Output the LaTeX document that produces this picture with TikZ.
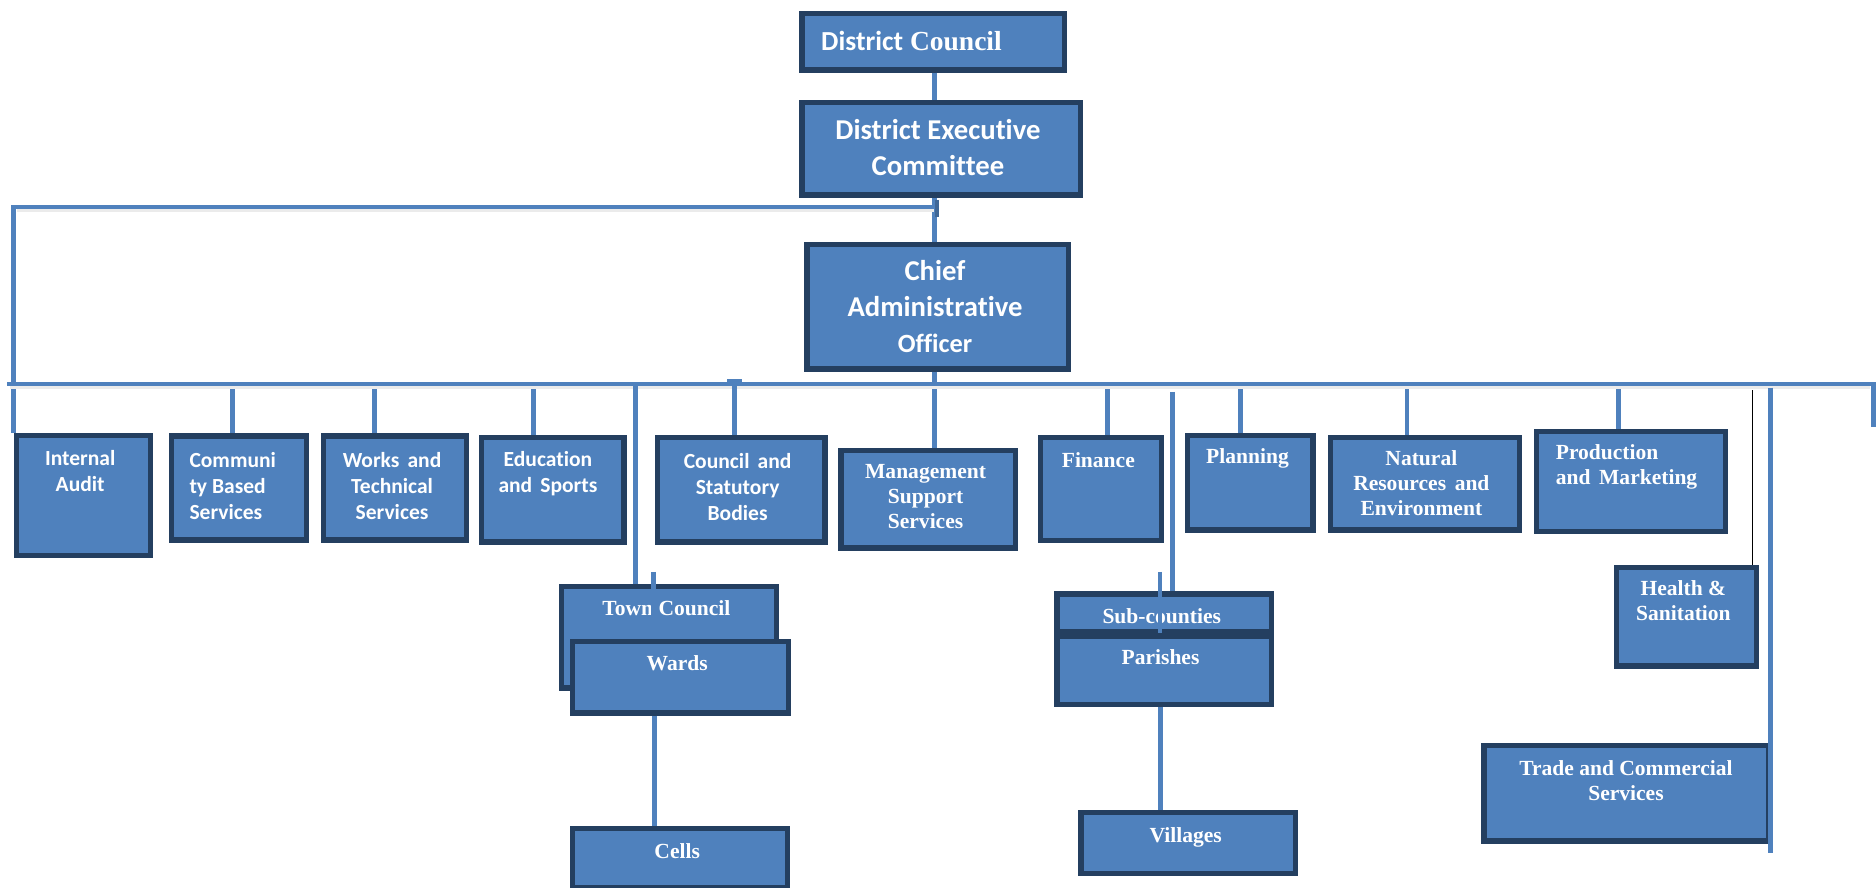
\documentclass[tikz,border=0pt]{standalone}
\usepackage{fontspec}
\setmainfont{Liberation Serif}
\newfontfamily\carl[Ligatures=NoCommon]{Carlito}
\usetikzlibrary{calc}
\definecolor{boxfill}{HTML}{4F81BD}
\definecolor{boxedge}{HTML}{243F60}
\definecolor{lineblue}{HTML}{4F81BD}
\tikzset{
  box/.style={draw=boxedge, fill=boxfill, line width=2.2pt, inner sep=0pt, anchor=north west},
  conn/.style={draw=lineblue, line width=2pt},
  shadowline/.style={draw=black!8, line width=1.8pt},
  thinconn/.style={draw=black, line width=0.5pt},
  sanslbl/.style={text=white, font=\carl\bfseries\fontsize{9}{10.8}\selectfont, align=center, inner sep=0pt},
  seriflbl/.style={text=white, font=\bfseries\fontsize{9}{10.4}\selectfont, align=center, inner sep=0pt},
  biglbl/.style={text=white, font=\carl\bfseries\fontsize{12}{15}\selectfont, align=center, inner sep=0pt},
}
\newcommand\bx[5]{\node[box, minimum width={(#4-#2-4.4)*0.5pt}, minimum height={(#5-#3-4.4)*0.5pt}] (#1) at ({#2+2.2},{#3+2.2}) {};}
\newcommand\wsp{\hspace{0.15em} }
\begin{document}
\begin{tikzpicture}[x=0.5pt, y=-0.5pt]
\useasboundingbox (0,0) rectangle (1568,742);

% ---- top boxes
\bx{dc}{666}{7}{890}{58.5}
\node[anchor=west, text=white, inner sep=0pt, font=\bfseries\fontsize{11.5}{14}\selectfont] (tdc) at (686,34) {{\carl District} Council};
\bx{dec}{666}{81}{903}{163}
\node[biglbl] (tdec) at (784,123) {District Executive\\Committee};
\bx{cao}{670}{200}{893}{308.5}
\node[biglbl] (tcao) at (781.5,256) {Chief\\Administrative\\{\fontsize{11}{14}\selectfont Officer}};

% ---- department boxes
\bx{ia}{9.6}{359.5}{125.6}{464}
\node[sanslbl] (tia) at (67,394) {Internal\\Audit};
\bx{cbs}{139}{360}{256}{451.4}
\node[sanslbl, align=left, anchor=west] (tcbs) at (158,406) {Communi\\ty Based\\Services};
\bx{wts}{266}{360}{389.6}{451.4}
\node[sanslbl] (twts) at (327.7,406) {Works\wsp and\\Technical\\Services};
\bx{eds}{398}{361}{521.6}{453}
\node[sanslbl] (teds) at (458,396) {Education\\and\wsp Sports};
\bx{csb}{545}{361}{689.5}{453}
\node[sanslbl] (tcsb) at (616.5,407) {Council\wsp and\\Statutory\\Bodies};
\bx{mss}{698.6}{372}{849}{458}
\node[seriflbl] (tmss) at (773.6,415) {Management\\Support\\Services};
\bx{fin}{865}{361}{971}{452}
\node[seriflbl] (tfin) at (918,385) {Finance};
\bx{pla}{988}{359.5}{1097.5}{443}
\node[seriflbl] (tpla) at (1042.7,383) {Planning};
\bx{nre}{1107.5}{361}{1270}{443}
\node[seriflbl] (tnre) at (1188,404) {Natural\\Resources\wsp and\\Environment};
\bx{pm}{1279.7}{356}{1442}{444}
\node[seriflbl, align=left, anchor=west] (tpm) at (1300,390) {Production\\and\wsp Marketing};
\bx{hs}{1346.5}{470}{1468}{556.6}
\node[seriflbl] (ths) at (1407,502) {Health \&\\Sanitation};
\bx{tcs}{1236}{619}{1478}{703}
\node[seriflbl] (ttcs) at (1359,652.5) {Trade and Commercial\\Services};

% ---- Town council branch
\bx{tc}{465}{486}{649}{575}
\node[seriflbl] (ttc) at (557,508) {Town Council};
\coordinate (tw) at (546,478);
\draw[conn] (tw) -- (tw |- 0,531.6);
\bx{wa}{474}{531.6}{659}{596}
\node[seriflbl] (twa) at (566,554) {Wards};
\bx{ce}{474}{688}{658}{742}
\node[seriflbl] (tce) at (566,711) {Cells};
\coordinate (wc) at (547,600);
\draw[conn] (wc |- wa.south) -- (wc |- ce.north);

% ---- Sub-county branch
\bx{sc}{879}{492}{1063}{528}
\node[seriflbl] (tsc) at (971,515) {Sub-counties};
\coordinate (sp) at (969.5,478);
\draw[conn] (sp) -- (969.5,529);
\bx{pa}{879}{527.5}{1063}{589}
\node[seriflbl] (tpa) at (970,549) {Parishes};
\bx{vi}{899}{674.5}{1083}{730}
\node[seriflbl] (tvi) at (991,699.6) {Villages};
\coordinate (pv) at (970,600);
\draw[conn] (pv |- pa.south) -- (pv |- vi.north);

% ---- spine
\coordinate (spine) at (781,0);
\draw[conn] (spine |- dc.south) -- (spine |- dec.north);
\draw[conn] (spine |- dec.south) -- (spine |- cao.north);
\draw[conn] (spine |- cao.south) -- (spine |- mss.north);

% ---- bracket
\coordinate (brR) at (783,173);
\coordinate (brL) at (11,173);
\draw[shadowline] (14,175.5) -- (781,175.5);
\draw[conn] (brR) -- (brL) -- (brL |- ia.north);
\draw[draw=lineblue!80!black, line width=1.6pt] (783,167) -- (783,181);

% ---- bus
\coordinate (busL) at (6,321);
\coordinate (busR) at (1566,321);
\draw[shadowline] (8,323.5) -- (1563,323.5);
\draw[conn] (busL) -- (busR) -- ++(0,36);

% ---- drops
\foreach \n/\x in {cbs/194, wts/312.8, eds/446, fin/925.7, pla/1037, nre/1176, pm/1353}{
  \coordinate (d\n) at (\x,325.5);
  \draw[conn] (d\n) -- (d\n |- \n.north);
}
\coordinate (dcsb) at (614,318);
\draw[conn] (dcsb) -- (dcsb |- csb.north);
\draw[conn] (608,318.5) -- (620,318.5);
\coordinate (dtc) at (531,322);
\draw[conn] (dtc) -- (dtc |- tc.north);
\coordinate (dsc) at (980,327.5);
\draw[conn] (dsc) -- (dsc |- sc.north);
\coordinate (dhs) at (1465,326);
\draw[thinconn] (dhs) -- (dhs |- hs.north);
\coordinate (dtcs) at (1480,324);
\coordinate (etcs) at (1480,713);
\draw[conn] (dtcs) -- (etcs);
\end{tikzpicture}
\end{document}
